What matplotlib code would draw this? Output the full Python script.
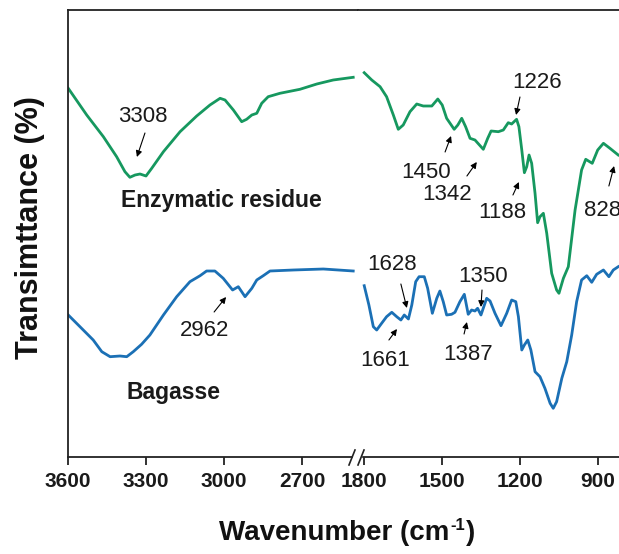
import matplotlib
matplotlib.use("Agg")
import matplotlib.pyplot as plt
from matplotlib.lines import Line2D
from matplotlib.patches import Rectangle

plt.rcParams['font.family'] = ['Liberation Sans', 'DejaVu Sans']

# ---------------- data ----------------
# High-wavenumber region (3600 - 2500 cm-1)
wn_hi_res = [3599, 3528, 3464, 3413, 3381, 3362, 3342, 3323, 3300, 3278, 3233, 3169,
             3105, 3054, 3015, 2996, 2964, 2932, 2913, 2893, 2874, 2855, 2830, 2785,
             2708, 2643, 2580, 2503]
t_hi_res = [368.7, 342, 320.3, 300.3, 285.3, 279.7, 282, 283, 281, 288.7, 305.3, 325.3,
            341, 352, 358.7, 357, 347, 335.3, 337.7, 342, 343.7, 353.7, 360.3, 363.7,
            367.7, 373, 377, 379.7]

wn_hi_bag = [3599, 3554, 3503, 3470, 3438, 3400, 3374, 3349, 3317, 3285, 3233, 3182,
             3131, 3092, 3067, 3035, 3003, 2967, 2945, 2919, 2893, 2874, 2849, 2823,
             2733, 2618, 2503]
t_hi_bag = [142, 130.3, 117, 105.3, 100.3, 101, 100.3, 105.3, 112.7, 122, 142, 160.3,
            175.3, 181.3, 186, 186, 178.7, 167, 170.3, 160.3, 168.7, 177, 181.3, 186,
            187, 188, 186]

# Fingerprint region (1800 - 820 cm-1)
wn_lo_res = [1798, 1769, 1737, 1712, 1686, 1667, 1648, 1622, 1596, 1571, 1538, 1515,
             1498, 1481, 1452, 1438, 1423, 1408, 1391, 1372, 1340, 1323, 1310, 1282,
             1263, 1244, 1231, 1212, 1203, 1192, 1182, 1173, 1164, 1154, 1141, 1131,
             1122, 1109, 1096, 1077, 1058, 1049, 1032, 1013, 987, 962, 946, 921, 900,
             878, 853, 821]
t_lo_res = [384.3, 377, 370.3, 360.3, 342, 327.7, 332, 345.3, 353, 351, 351, 358,
            352, 338.7, 327.7, 332, 338.7, 330.3, 318.7, 317, 307.7, 318.7, 326, 325.3,
            327, 334.3, 333, 337.7, 330.3, 307, 284.3, 290.3, 302, 293.7, 263.7, 234.3,
            240.3, 243.7, 223.7, 183.7, 167, 163.7, 178.7, 190.3, 247, 287, 297.7, 293.7,
            307, 313.7, 308.7, 302]

wn_lo_bag = [1798, 1780, 1763, 1750, 1731, 1712, 1692, 1673, 1657, 1644, 1628, 1615,
             1600, 1587, 1567, 1554, 1536, 1519, 1507, 1494, 1481, 1462, 1449, 1430,
             1413, 1398, 1385, 1372, 1362, 1349, 1327, 1314, 1295, 1272, 1250, 1231,
             1215, 1205, 1192, 1182, 1169, 1157, 1141, 1122, 1103, 1083, 1071, 1058,
             1038, 1019, 1000, 981, 962, 942, 923, 904, 878, 857, 840, 821]
t_lo_bag = [171.3, 152, 130.3, 127, 133.7, 140.3, 144.7, 140.3, 137, 142, 138, 152,
            175.3, 180.3, 180.3, 168.7, 143.7, 158.7, 166, 155.3, 142, 142.7, 144.7, 155.3,
            162.7, 142.7, 147, 146, 148.7, 142, 158.7, 156, 143.7, 131.3, 143.7, 157,
            155.3, 140.3, 107, 112, 117, 107, 85.3, 80.3, 68.7, 53.7, 48.7, 55.3,
            78.7, 95.3, 122, 155.3, 177, 181.3, 174.7, 182.7, 187, 180.3, 187, 190.3]

ticks_hi = [3600, 3300, 3000, 2700]
ticks_lo = [1800, 1500, 1200, 900]

# annotations: (label, text x, text y, arrow start x, y, arrow end x, y)
ann_hi = [("3308", 3313, 340, 3304, 324, 3335, 300),
          ("2962", 3073, 127, 3038, 145, 2992, 160)]
ann_lo = [("1226", 1132, 374, 1199, 360, 1214, 342),
          ("1450", 1560, 284, 1487, 305, 1464, 321),
          ("1342", 1478, 262, 1403, 281, 1365, 295),
          ("1188", 1266, 244, 1226, 262, 1203, 275),
          ("1628", 1689, 193, 1657, 173, 1634, 149),
          ("1661", 1718, 96, 1703, 117, 1672, 128),
          ("1350", 1339, 180, 1345, 167, 1349, 150),
          ("1387", 1399, 102, 1414, 123, 1403, 135)]
ann_828 = ("828", 953, 246, 857, 271, 837, 291)

GREEN = '#16985f'
BLUE = '#1b70b5'
INK = '#1a1a1a'

W, H = 619, 554
fig = plt.figure(figsize=(W / 100, H / 100), dpi=100)

def fx(px):
    return px / W

def fy(py):
    return 1 - py / H

bottom = fy(457)
height = (457 - 10) / H
split = 358
ax1 = fig.add_axes([fx(68), bottom, fx(split - 68), height])
ax2 = fig.add_axes([fx(split), bottom, fx(W - split), height])

ax1.set_xlim(3600, 3600 - (split - 68) / 0.26)
ax2.set_xlim(1800 + (363.7 - split) / 0.26, 1800 - (W - 363.7) / 0.26)
for ax in (ax1, ax2):
    ax.set_ylim(0, 447)
    ax.set_yticks([])
    ax.spines['right'].set_visible(False)
    for s in ('top', 'bottom', 'left'):
        ax.spines[s].set_linewidth(1.3)
        ax.spines[s].set_color('#222222')
    ax.tick_params(axis='x', direction='out', length=6, width=1.3, color='#222222',
                   pad=5)
ax2.spines['left'].set_visible(False)

ax1.set_xticks(ticks_hi)
ax1.set_xticklabels([str(t) for t in ticks_hi], fontweight='bold', fontsize=15, color=INK)
ax2.set_xticks(ticks_lo)
ax2.set_xticklabels([str(t) for t in ticks_lo], fontweight='bold', fontsize=15, color=INK)

lw = 2.0
ax1.plot(wn_hi_res, t_hi_res, color=GREEN, lw=lw, solid_joinstyle='round')
ax1.plot(wn_hi_bag, t_hi_bag, color=BLUE, lw=lw, solid_joinstyle='round')
ax2.plot(wn_lo_res, t_lo_res, color=GREEN, lw=lw, solid_joinstyle='round')
ax2.plot(wn_lo_bag, t_lo_bag, color=BLUE, lw=lw, solid_joinstyle='round')

arrowprops = dict(arrowstyle='-|>', color='black', lw=0.8, mutation_scale=9,
                  shrinkA=0, shrinkB=0)

def annotate(ax, item, ha='center'):
    label, tx, ty, sx, sy, ex, ey = item
    ax.text(tx, ty, label, fontsize=16, ha=ha, va='center', color=INK)
    ax.annotate('', xy=(ex, ey), xytext=(sx, sy), arrowprops=arrowprops)

for a in ann_hi:
    annotate(ax1, a)
for a in ann_lo:
    annotate(ax2, a)
annotate(ax2, ann_828, ha='left')

ax1.text(3012, 257, "Enzymatic residue", fontsize=16.5, fontweight='bold',
         ha='center', va='center', color=INK)
ax1.text(3194, 64, "Bagasse", fontsize=16.5, fontweight='bold',
         ha='center', va='center', color=INK)

# axis break marks
fig.patches.append(Rectangle((fx(353), fy(460)), fx(8), fy(454) - fy(460),
                             transform=fig.transFigure, color='white', zorder=5))
for x0 in (349, 358):
    fig.lines.append(Line2D([fx(x0), fx(x0 + 6)], [fy(465), fy(450)],
                            transform=fig.transFigure, color='#222222', lw=1.2, zorder=6))

# x-axis label with small raised "-1"
renderer = fig.canvas.get_renderer()
base_y = fy(540)
t1 = fig.text(fx(219), base_y, "Wavenumber (cm", fontsize=20, fontweight='bold',
              ha='left', va='baseline', color='#111111')
bb1 = t1.get_window_extent(renderer)
t2 = fig.text(bb1.x1 / W + fx(1), base_y + fx(0) + 9.5 / H, "-1", fontsize=12,
              fontweight='bold', ha='left', va='baseline', color='#111111')
bb2 = t2.get_window_extent(renderer)
fig.text(bb2.x1 / W + fx(1), base_y, ")", fontsize=20, fontweight='bold',
         ha='left', va='baseline', color='#111111')

fig.text(fx(30), fy(228), "Transimttance (%)", fontsize=22, fontweight='bold',
         rotation=90, ha='center', va='center', color='#111111')

fig.savefig("out.png", dpi=100)
